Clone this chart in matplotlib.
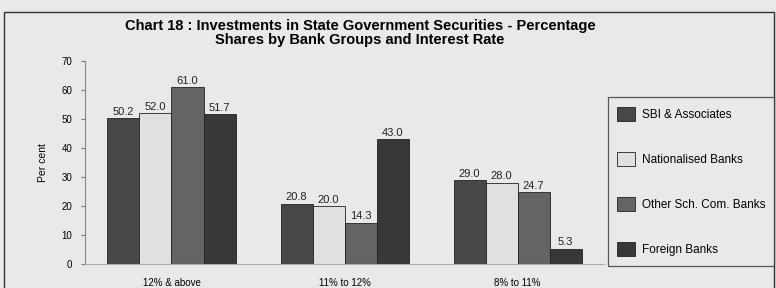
import matplotlib.pyplot as plt
import numpy as np
from matplotlib.patches import Rectangle

plt.rcParams['font.family'] = ['Liberation Sans', 'DejaVu Sans']

categories = ["12% & above", "11% to 12%", "8% to 11%"]
groups = ["SBI & Associates", "Nationalised Banks", "Other Sch. Com. Banks", "Foreign Banks"]
sbi = [50.2, 20.8, 29.0]
nationalised = [52.0, 20.0, 28.0]
other = [61.0, 14.3, 24.7]
foreign = [51.7, 43.0, 5.3]
colors = ["#474747", "#e0e0e0", "#646464", "#383838"]

fig = plt.figure(figsize=(7.76, 2.88), dpi=100)
fig.patch.set_facecolor("#e9e9e9")
ax = fig.add_axes([0.1095, 0.0833, 0.669, 0.705])
ax.set_facecolor("#e9e9e9")

# outer frame of the chart
fig.patches.append(Rectangle((0.005, -0.01), 0.993, 0.968, transform=fig.transFigure,
                             fill=False, edgecolor="#333333", linewidth=1.0))

x = np.arange(len(categories))
w = 0.185
series = [sbi, nationalised, other, foreign]
for i, vals in enumerate(series):
    bars = ax.bar(x + (i - 1.5) * w, vals, w, color=colors[i], edgecolor="#222222",
                  linewidth=0.6, label=groups[i])
    ax.bar_label(bars, labels=[f"{v:.1f}" for v in vals], padding=1, fontsize=8, color="#222222")

ax.set_xlim(-0.5, 2.5)
ax.set_ylim(0, 70)
ax.set_yticks(range(0, 71, 10))
ax.set_xticks(x)
ax.set_xticklabels(categories, fontsize=7)
ax.tick_params(axis="x", length=0, pad=10)
ax.tick_params(axis="y", labelsize=7, length=3, pad=6, color="#777777")
for s in ["top", "right"]:
    ax.spines[s].set_visible(False)
ax.spines["left"].set_color("#888888")
ax.spines["bottom"].set_color("#aaaaaa")
ax.set_ylabel("Per cent", fontsize=7.5, labelpad=10)

fig.text(0.464, 0.886,
         "Chart 18 : Investments in State Government Securities - Percentage\n"
         "Shares by Bank Groups and Interest Rate",
         ha="center", va="center", fontsize=10.5, fontweight="bold", linespacing=0.95)

leg = fig.legend(loc="center left", bbox_to_anchor=(0.783, 0.08, 0.215, 0.58),
                 mode="expand", fontsize=8.5, labelspacing=2.6, handlelength=1.5,
                 handleheight=1.5, handletextpad=0.6, borderpad=0.8, borderaxespad=0,
                 frameon=True, fancybox=False)
leg.get_frame().set_edgecolor("#333333")
leg.get_frame().set_facecolor("#e9e9e9")
leg.get_frame().set_linewidth(0.9)

fig.savefig("out.png", dpi=100, facecolor=fig.get_facecolor())
